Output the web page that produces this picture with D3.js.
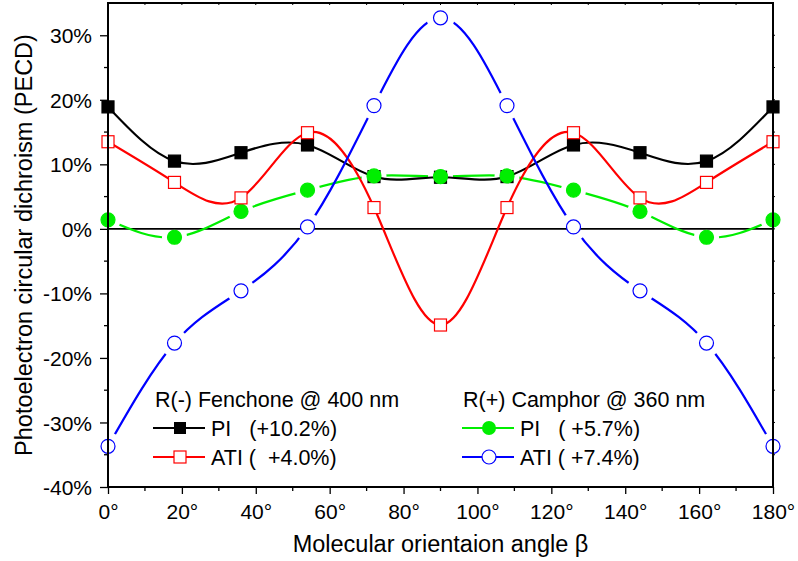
<!DOCTYPE html>
<html>
<head>
<meta charset="utf-8">
<script src="https://cdn.jsdelivr.net/npm/d3@7"></script>
<style>
  body { margin: 0; background: #fff; }
  text { font-family: "Liberation Sans", Arial, sans-serif; }
</style>
</head>
<body>
<svg width="798" height="561"></svg>
<script>
var svg = d3.select('svg');

// data
var angles = [0, 18, 36, 54, 72, 90, 108, 126, 144, 162, 180];
var fenPI  = [18.9, 10.5, 11.8, 13.0, 8.1, 8.0, 8.1, 13.0, 11.8, 10.5, 18.9];
var fenATI = [13.5, 7.2, 4.8, 14.9, 3.3, -14.9, 3.3, 14.9, 4.8, 7.2, 13.5];
var camPI  = [1.4, -1.3, 2.7, 6.0, 8.2, 8.1, 8.2, 6.0, 2.7, -1.3, 1.4];
var camATI = [-33.7, -17.7, -9.6, 0.3, 19.1, 32.7, 19.1, 0.3, -9.6, -17.7, -33.7];
var xTicks = [0, 20, 40, 60, 80, 100, 120, 140, 160, 180];
var yTicks = [-40, -30, -20, -10, 0, 10, 20, 30];

var pL = 108, pR = 773, pT = 3, pB = 487;
var x = d3.scaleLinear().domain([0, 180]).range([pL, pR]);
var y = d3.scaleLinear().domain([-40, 35]).range([pB, pT]);

var line = d3.line()
    .x(function(d) { return x(d[0]); })
    .y(function(d) { return y(d[1]); })
    .curve(d3.curveNatural);

function pts(vals) { return angles.map(function(a, i) { return [a, vals[i]]; }); }

// masks to cut line around markers
var defs = svg.append('defs');
function makeMask(id, vals, r) {
    var m = defs.append('mask').attr('id', id).attr('maskUnits', 'userSpaceOnUse')
        .attr('x', 0).attr('y', 0).attr('width', 798).attr('height', 561);
    m.append('rect').attr('width', 798).attr('height', 561).attr('fill', 'white');
    m.selectAll('circle').data(pts(vals)).enter().append('circle')
        .attr('cx', function(d) { return x(d[0]); })
        .attr('cy', function(d) { return y(d[1]); })
        .attr('r', r).attr('fill', 'black');
}
makeMask('mBlue', camATI, 14);
makeMask('mGreen', camPI, 12.5);
defs.append('clipPath').attr('id', 'plotClip').append('rect')
    .attr('x', pL).attr('y', pT).attr('width', pR - pL).attr('height', pB - pT);

// zero line
svg.append('line')
    .attr('x1', x(0)).attr('x2', x(180)).attr('y1', y(0)).attr('y2', y(0))
    .attr('stroke', '#000').attr('stroke-width', 1.6);

var plot = svg.append('g').attr('clip-path', 'url(#plotClip)');

plot.append('path').datum(pts(camPI)).attr('d', line)
    .attr('fill', 'none').attr('stroke', '#00ee00').attr('stroke-width', 2.2)
    .attr('mask', 'url(#mGreen)');
plot.append('path').datum(pts(fenPI)).attr('d', line)
    .attr('fill', 'none').attr('stroke', '#000').attr('stroke-width', 2.2);
plot.append('path').datum(pts(fenATI)).attr('d', line)
    .attr('fill', 'none').attr('stroke', '#ff0000').attr('stroke-width', 2.2);
plot.append('path').datum(pts(camATI)).attr('d', line)
    .attr('fill', 'none').attr('stroke', '#0000ff').attr('stroke-width', 2.2)
    .attr('mask', 'url(#mBlue)');

// markers
function squares(vals, fill, stroke, s) {
    svg.append('g').selectAll('rect').data(pts(vals)).enter().append('rect')
        .attr('x', function(d) { return x(d[0]) - s / 2; })
        .attr('y', function(d) { return y(d[1]) - s / 2; })
        .attr('width', s).attr('height', s)
        .attr('fill', fill).attr('stroke', stroke).attr('stroke-width', 1.2);
}
function circles(vals, fill, stroke, r) {
    svg.append('g').selectAll('circle').data(pts(vals)).enter().append('circle')
        .attr('cx', function(d) { return x(d[0]); })
        .attr('cy', function(d) { return y(d[1]); })
        .attr('r', r)
        .attr('fill', fill).attr('stroke', stroke).attr('stroke-width', 1.2);
}
squares(fenPI, '#000', '#000', 12);
circles(camPI, '#00ee00', '#00ee00', 7);
squares(fenATI, 'white', '#ff0000', 12);
circles(camATI, 'white', '#0000ff', 7);

// axes
var xAxis = d3.axisBottom(x).tickValues(xTicks).tickSize(7).tickPadding(10)
    .tickFormat(function(d) { return d + '\u00b0'; });
var gx = svg.append('g').attr('transform', 'translate(0,' + pB + ')').call(xAxis);
var yAxis = d3.axisLeft(y).tickValues(yTicks).tickSize(8).tickPadding(8)
    .tickFormat(function(d) { return d + '%'; });
var gy = svg.append('g').attr('transform', 'translate(' + pL + ',0)').call(yAxis);
[gx, gy].forEach(function(g) {
    g.select('.domain').remove();
    g.selectAll('line').attr('stroke', '#000').attr('stroke-width', 1.3);
    g.selectAll('text').attr('font-size', 21).attr('fill', '#000')
        .style('font-family', '"Liberation Sans", Arial, sans-serif');
});
gx.selectAll('text').attr('dy', '0.72em');
gy.selectAll('text').attr('dy', '0.36em');

// minor ticks
svg.append('g').selectAll('line').data(d3.range(10, 180, 20)).enter().append('line')
    .attr('x1', function(d) { return x(d); }).attr('x2', function(d) { return x(d); })
    .attr('y1', pB).attr('y2', pB + 4).attr('stroke', '#000').attr('stroke-width', 1.3);
svg.append('g').selectAll('line').data(d3.range(-35, 35, 10)).enter().append('line')
    .attr('x1', pL - 4).attr('x2', pL)
    .attr('y1', function(d) { return y(d); }).attr('y2', function(d) { return y(d); })
    .attr('stroke', '#000').attr('stroke-width', 1.3);

// top/right tiny ticks
svg.append('g').selectAll('line').data(d3.range(10, 180, 10)).enter().append('line')
    .attr('x1', function(d) { return x(d); }).attr('x2', function(d) { return x(d); })
    .attr('y1', pT).attr('y2', pT + 2).attr('stroke', '#000').attr('stroke-width', 1);
svg.append('g').selectAll('line').data(d3.range(-35, 35, 5)).enter().append('line')
    .attr('x1', pR).attr('x2', pR + 2)
    .attr('y1', function(d) { return y(d); }).attr('y2', function(d) { return y(d); })
    .attr('stroke', '#000').attr('stroke-width', 1);

// frame
svg.append('rect').attr('x', pL).attr('y', pT)
    .attr('width', pR - pL).attr('height', pB - pT)
    .attr('fill', 'none').attr('stroke', '#000').attr('stroke-width', 2);

// axis titles
svg.append('text').attr('x', (pL + pR) / 2).attr('y', 552)
    .attr('text-anchor', 'middle').attr('font-size', 23.5)
    .text('Molecular orientaion angle \u03b2');
svg.append('text').attr('transform', 'translate(32,' + ((pT + pB) / 2) + ') rotate(-90)')
    .attr('text-anchor', 'middle').attr('font-size', 23.5)
    .text('Photoelectron circular dichroism (PECD)');

// legend
function legendItem(x0, yy, color, type, label) {
    var g = svg.append('g');
    g.append('line').attr('x1', x0).attr('x2', x0 + 52).attr('y1', yy).attr('y2', yy)
        .attr('stroke', color).attr('stroke-width', 2);
    var cx = x0 + 27;
    if (type === 'fsq') g.append('rect').attr('x', cx - 6).attr('y', yy - 6).attr('width', 12).attr('height', 12).attr('fill', color);
    if (type === 'osq') g.append('rect').attr('x', cx - 6).attr('y', yy - 6).attr('width', 12).attr('height', 12).attr('fill', 'white').attr('stroke', color).attr('stroke-width', 1.2);
    if (type === 'fci') g.append('circle').attr('cx', cx).attr('cy', yy).attr('r', 7).attr('fill', color);
    if (type === 'oci') g.append('circle').attr('cx', cx).attr('cy', yy).attr('r', 7).attr('fill', 'white').attr('stroke', color).attr('stroke-width', 1.2);
    g.append('text').attr('x', x0 + 58).attr('y', yy + 8).attr('font-size', 21.5)
        .style('white-space', 'pre').text(label);
}
svg.append('text').attr('x', 155).attr('y', 407).attr('font-size', 21.5).text('R(-) Fenchone @ 400 nm');
legendItem(153, 428, '#000', 'fsq', 'PI   (+10.2%)');
legendItem(153, 457, '#ff0000', 'osq', 'ATI (  +4.0%)');
svg.append('text').attr('x', 463).attr('y', 407).attr('font-size', 21.5).text('R(+) Camphor @ 360 nm');
legendItem(462, 428, '#00ee00', 'fci', 'PI   ( +5.7%)');
legendItem(462, 457, '#0000ff', 'oci', 'ATI ( +7.4%)');
</script>
</body>
</html>
